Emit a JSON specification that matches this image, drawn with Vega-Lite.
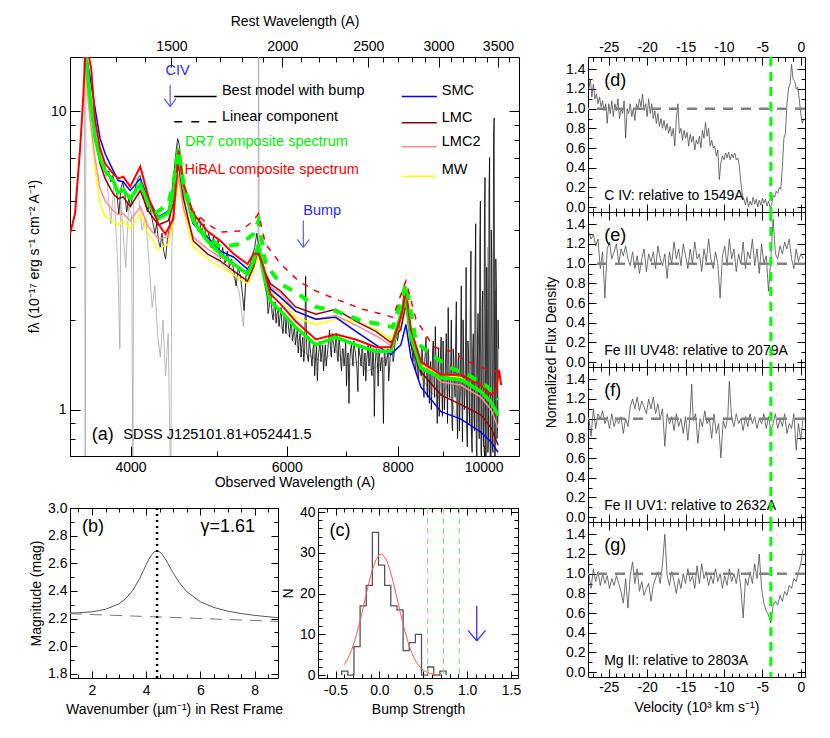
{
"$schema": "https://vega.github.io/schema/vega-lite/v6.json",
"padding": {"left": 26, "top": 13, "right": 5, "bottom": 5},
"background": "white",
"config": {
  "font": "Liberation Sans",
  "view": {"stroke": "#000", "strokeWidth": 1},
  "axis": {"domain": false, "grid": false, "labelColor": "#000", "titleColor": "#000", "tickColor": "#000", "labelFontSize": 14, "titleFontSize": 14, "titleFontWeight": "normal", "labelOverlap": false, "labelFlush": false}
},
"datasets": {
  "gray": [{"w":3530,"f":16},{"w":3548,"f":13},{"w":3556,"f":0.5},{"w":3562,"f":12},{"w":3600,"f":10.2},{"w":3650,"f":8.2},{"w":3700,"f":6.8},{"w":3760,"f":6.0},{"w":3800,"f":4.2},{"w":3830,"f":5.6},{"w":3870,"f":3.0},{"w":3890,"f":1.6},{"w":3900,"f":5.0},{"w":3950,"f":3.0},{"w":3980,"f":4.8},{"w":4010,"f":4.5},{"w":4024,"f":0.5},{"w":4032,"f":5.0},{"w":4080,"f":5.4},{"w":4120,"f":4.0},{"w":4160,"f":4.4},{"w":4200,"f":3.0},{"w":4230,"f":2.2},{"w":4260,"f":2.6},{"w":4290,"f":1.8},{"w":4320,"f":1.5},{"w":4350,"f":2.0},{"w":4380,"f":1.3},{"w":4410,"f":1.8},{"w":4440,"f":0.5},{"w":4452,"f":3.5},{"w":4480,"f":5.8},{"w":4520,"f":7.8},{"w":4560,"f":6.0},{"w":4620,"f":4.8},{"w":4700,"f":4.2},{"w":4800,"f":3.9},{"w":4900,"f":3.6},{"w":5000,"f":3.3},{"w":5100,"f":3.0},{"w":5200,"f":2.9},{"w":5300,"f":2.5},{"w":5360,"f":1.9},{"w":5400,"f":2.8},{"w":5500,"f":3.2},{"w":5568,"f":3.6},{"w":5576,"f":20},{"w":5584,"f":3.4},{"w":5650,"f":2.7},{"w":5750,"f":2.2},{"w":5900,"f":1.9},{"w":6000,"f":1.8},{"w":6200,"f":1.6},{"w":6400,"f":1.5},{"w":6600,"f":1.45},{"w":6800,"f":1.6},{"w":7000,"f":1.4},{"w":7200,"f":1.45},{"w":7400,"f":1.35},{"w":7600,"f":1.4},{"w":7800,"f":1.5},{"w":8000,"f":1.8},{"w":8150,"f":2.4},{"w":8300,"f":1.6},{"w":8500,"f":1.3},{"w":8700,"f":1.15},{"w":8900,"f":1.1},{"w":9100,"f":1.2},{"w":9300,"f":0.95},{"w":9500,"f":1.3},{"w":9700,"f":0.8},{"w":9900,"f":2.0},{"w":10000,"f":0.72},{"w":10100,"f":3.5},{"w":10200,"f":0.7},{"w":10300,"f":2.5},{"w":10400,"f":0.9}],
  "black": [{"w":3545,"f":15.5},{"w":3560,"f":14.2},{"w":3575,"f":12.5},{"w":3590,"f":11.2},{"w":3605,"f":10.4},{"w":3620,"f":9.4},{"w":3640,"f":8.5},{"w":3660,"f":7.8},{"w":3680,"f":7.3},{"w":3700,"f":6.9},{"w":3720,"f":6.5},{"w":3740,"f":6.6},{"w":3760,"f":6.1},{"w":3780,"f":6.3},{"w":3800,"f":5.8},{"w":3820,"f":6.1},{"w":3840,"f":5.6},{"w":3860,"f":5.3},{"w":3880,"f":4.5},{"w":3900,"f":5.5},{"w":3920,"f":5.8},{"w":3940,"f":5.3},{"w":3960,"f":4.6},{"w":3980,"f":5.1},{"w":4000,"f":4.8},{"w":4020,"f":5.2},{"w":4040,"f":5.4},{"w":4060,"f":5.7},{"w":4080,"f":6.0},{"w":4100,"f":6.1},{"w":4120,"f":5.7},{"w":4140,"f":5.1},{"w":4160,"f":4.8},{"w":4180,"f":4.6},{"w":4200,"f":4.9},{"w":4220,"f":4.5},{"w":4240,"f":4.2},{"w":4260,"f":3.9},{"w":4280,"f":4.2},{"w":4300,"f":3.7},{"w":4320,"f":3.5},{"w":4340,"f":3.9},{"w":4360,"f":3.4},{"w":4380,"f":3.2},{"w":4400,"f":3.7},{"w":4420,"f":4.0},{"w":4440,"f":4.9},{"w":4460,"f":5.7},{"w":4480,"f":6.4},{"w":4500,"f":7.3},{"w":4520,"f":8.1},{"w":4540,"f":7.7},{"w":4560,"f":6.5},{"w":4580,"f":5.9},{"w":4600,"f":5.5},{"w":4630,"f":5.0},{"w":4660,"f":4.7},{"w":4690,"f":4.3},{"w":4720,"f":4.6},{"w":4750,"f":4.1},{"w":4780,"f":4.4},{"w":4810,"f":3.9},{"w":4840,"f":4.2},{"w":4870,"f":3.7},{"w":4900,"f":3.9},{"w":4930,"f":3.5},{"w":4960,"f":3.8},{"w":4990,"f":3.4},{"w":5020,"f":3.7},{"w":5050,"f":3.2},{"w":5080,"f":3.5},{"w":5110,"f":3.1},{"w":5140,"f":3.4},{"w":5170,"f":3.0},{"w":5200,"f":3.2},{"w":5230,"f":2.9},{"w":5260,"f":2.6},{"w":5290,"f":3.0},{"w":5320,"f":2.8},{"w":5350,"f":2.4},{"w":5370,"f":2.15},{"w":5400,"f":2.9},{"w":5430,"f":3.0},{"w":5460,"f":3.1},{"w":5490,"f":3.3},{"w":5520,"f":3.5},{"w":5550,"f":3.9},{"w":5580,"f":3.5},{"w":5610,"f":3.2},{"w":5640,"f":2.9},{"w":5670,"f":2.6},{"w":5700,"f":2.4},{"w":5730,"f":2.2},{"w":5760,"f":2.4},{"w":5790,"f":2.0},{"w":5820,"f":2.3},{"w":5850,"f":2.1},{"w":5880,"f":1.9},{"w":5910,"f":2.2},{"w":5940,"f":1.8},{"w":5970,"f":2.1},{"w":6000,"f":2.0},{"w":6030,"f":1.85},{"w":6060,"f":1.95},{"w":6090,"f":1.7},{"w":6120,"f":1.9},{"w":6150,"f":1.75},{"w":6180,"f":1.55},{"w":6210,"f":1.8},{"w":6240,"f":1.65},{"w":6270,"f":1.45},{"w":6300,"f":2.8},{"w":6320,"f":1.55},{"w":6360,"f":1.75},{"w":6390,"f":1.5},{"w":6420,"f":1.6},{"w":6450,"f":1.3},{"w":6480,"f":1.65},{"w":6510,"f":1.5},{"w":6540,"f":1.7},{"w":6570,"f":1.55},{"w":6600,"f":1.35},{"w":6630,"f":1.65},{"w":6660,"f":1.5},{"w":6690,"f":1.75},{"w":6720,"f":1.6},{"w":6750,"f":1.8},{"w":6780,"f":1.65},{"w":6810,"f":1.7},{"w":6840,"f":1.5},{"w":6870,"f":1.75},{"w":6900,"f":1.45},{"w":6930,"f":1.6},{"w":6960,"f":1.4},{"w":6990,"f":1.7},{"w":7020,"f":1.5},{"w":7050,"f":1.05},{"w":7080,"f":1.6},{"w":7110,"f":1.5},{"w":7140,"f":1.7},{"w":7170,"f":1.55},{"w":7200,"f":1.35},{"w":7230,"f":1.65},{"w":7260,"f":1.5},{"w":7290,"f":1.6},{"w":7320,"f":1.3},{"w":7350,"f":1.55},{"w":7380,"f":1.45},{"w":7410,"f":1.65},{"w":7440,"f":1.5},{"w":7470,"f":1.35},{"w":7500,"f":1.6},{"w":7530,"f":0.95},{"w":7560,"f":1.55},{"w":7590,"f":1.45},{"w":7620,"f":1.6},{"w":7650,"f":1.35},{"w":7680,"f":1.5},{"w":7710,"f":0.9},{"w":7740,"f":1.55},{"w":7770,"f":1.45},{"w":7800,"f":1.6},{"w":7830,"f":1.35},{"w":7860,"f":1.55},{"w":7890,"f":1.65},{"w":7920,"f":1.5},{"w":7950,"f":1.7},{"w":7980,"f":1.8},{"w":8010,"f":1.75},{"w":8040,"f":1.95},{"w":8070,"f":2.05},{"w":8100,"f":2.25},{"w":8130,"f":2.45},{"w":8160,"f":2.6},{"w":8190,"f":2.3},{"w":8220,"f":2.0},{"w":8250,"f":1.85},{"w":8280,"f":1.7},{"w":8310,"f":1.55},{"w":8340,"f":1.65},{"w":8370,"f":1.4},{"w":8400,"f":1.55},{"w":8430,"f":1.3},{"w":8460,"f":1.5},{"w":8490,"f":1.35},{"w":8520,"f":1.6},{"w":8550,"f":1.2},{"w":8580,"f":1.45},{"w":8610,"f":1.75},{"w":8640,"f":1.1},{"w":8670,"f":1.5},{"w":8700,"f":1.3},{"w":8730,"f":1.0},{"w":8760,"f":1.6},{"w":8790,"f":1.25},{"w":8820,"f":1.9},{"w":8850,"f":1.15},{"w":8880,"f":1.4},{"w":8910,"f":0.95},{"w":8940,"f":1.55},{"w":8970,"f":1.2},{"w":9000,"f":1.7},{"w":9030,"f":1.0},{"w":9060,"f":1.5},{"w":9090,"f":1.25},{"w":9120,"f":2.2},{"w":9150,"f":1.1},{"w":9180,"f":1.45},{"w":9210,"f":0.9},{"w":9240,"f":1.6},{"w":9270,"f":1.2},{"w":9300,"f":1.8},{"w":9330,"f":1.0},{"w":9360,"f":1.45},{"w":9390,"f":0.85},{"w":9420,"f":1.6},{"w":9450,"f":1.15},{"w":9480,"f":2.0},{"w":9510,"f":1.0},{"w":9540,"f":1.5},{"w":9570,"f":0.85},{"w":9600,"f":1.7},{"w":9630,"f":1.1},{"w":9660,"f":2.4},{"w":9690,"f":0.8},{"w":9720,"f":1.6},{"w":9750,"f":1.05},{"w":9780,"f":2.8},{"w":9810,"f":0.75},{"w":9840,"f":1.7},{"w":9870,"f":0.9},{"w":9900,"f":3.6},{"w":9930,"f":0.72},{"w":9960,"f":2.2},{"w":9990,"f":0.8},{"w":10020,"f":4.5},{"w":10050,"f":0.69},{"w":10080,"f":3.0},{"w":10110,"f":0.72},{"w":10140,"f":5.5},{"w":10170,"f":0.69},{"w":10200,"f":4.0},{"w":10230,"f":0.75},{"w":10260,"f":8.2},{"w":10290,"f":0.69},{"w":10320,"f":3.2},{"w":10350,"f":0.8},{"w":10380,"f":2.0},
{"w":5715,"f":2.1},{"w":5745,"f":2.5},{"w":5775,"f":2.1},{"w":5805,"f":2.2},{"w":5835,"f":1.95},{"w":5865,"f":2.15},{"w":5895,"f":2.05},{"w":5925,"f":1.9},{"w":5955,"f":2.05},{"w":5985,"f":1.8},{"w":6015,"f":2.05},{"w":6045,"f":1.75},{"w":6075,"f":1.9},{"w":6105,"f":1.8},{"w":6135,"f":1.65},{"w":6165,"f":1.85},{"w":6195,"f":1.7},{"w":6225,"f":1.5},{"w":6255,"f":1.75},{"w":6285,"f":1.6},{"w":6315,"f":1.7},{"w":6345,"f":1.45},{"w":6375,"f":1.6},{"w":6405,"f":1.4},{"w":6435,"f":1.65},{"w":6465,"f":1.5},{"w":6495,"f":1.25},{"w":6525,"f":1.6},{"w":6555,"f":1.45},{"w":6585,"f":1.65},{"w":6615,"f":1.5},{"w":6645,"f":1.4},{"w":6675,"f":1.6},{"w":6705,"f":1.85},{"w":6735,"f":1.5},{"w":6765,"f":1.7},{"w":6795,"f":1.55},{"w":6825,"f":1.8},{"w":6855,"f":1.45},{"w":6885,"f":1.65},{"w":6915,"f":1.35},{"w":6945,"f":1.6},{"w":6975,"f":1.5},{"w":7005,"f":1.2},{"w":7035,"f":1.55},{"w":7065,"f":1.45},{"w":7095,"f":1.65},{"w":7125,"f":1.4},{"w":7155,"f":1.6},{"w":7185,"f":1.45},{"w":7215,"f":1.15},{"w":7245,"f":1.55},{"w":7275,"f":1.4},{"w":7305,"f":1.6},{"w":7335,"f":1.45},{"w":7365,"f":1.25},{"w":7395,"f":1.55},{"w":7425,"f":1.4},{"w":7455,"f":1.65},{"w":7485,"f":1.3},{"w":7515,"f":1.5},{"w":7545,"f":1.4},{"w":7575,"f":1.6},{"w":7605,"f":1.2},{"w":7635,"f":1.5},{"w":7665,"f":1.45},{"w":7695,"f":1.3},{"w":7725,"f":1.55},{"w":7755,"f":1.4},{"w":7785,"f":1.5},{"w":7815,"f":1.25},{"w":7845,"f":1.5},{"w":7875,"f":1.6},{"w":7905,"f":1.45},{"w":7935,"f":1.6},{"w":7965,"f":1.75},{"w":7995,"f":1.7},{"w":8025,"f":1.85},{"w":8055,"f":2.0},{"w":8085,"f":2.15},{"w":8115,"f":2.35},{"w":8145,"f":2.55},{"w":8175,"f":2.5},{"w":8205,"f":2.1},{"w":8235,"f":1.9},{"w":8265,"f":1.75},{"w":8295,"f":1.6},{"w":8325,"f":1.45},{"w":8355,"f":1.6},{"w":8385,"f":1.35},{"w":8415,"f":1.55},{"w":8445,"f":1.25},{"w":8475,"f":1.45},{"w":8505,"f":1.3},{"w":8535,"f":1.5},{"w":8565,"f":1.1},{"w":8595,"f":1.55},{"w":8625,"f":1.3},{"w":8655,"f":1.6},{"w":8685,"f":1.05},{"w":8715,"f":1.45},{"w":8745,"f":1.2},{"w":8775,"f":1.7},{"w":8805,"f":1.1},{"w":8835,"f":1.5},{"w":8865,"f":0.9},{"w":8895,"f":1.6},{"w":8925,"f":1.15},{"w":8955,"f":1.75},{"w":8985,"f":0.95},{"w":9015,"f":1.4},{"w":9045,"f":1.15},{"w":9075,"f":1.8},{"w":9105,"f":0.9},{"w":9135,"f":1.5},{"w":9165,"f":1.3},{"w":9195,"f":2.0},{"w":9225,"f":0.85},{"w":9255,"f":1.45},{"w":9285,"f":1.1},{"w":9315,"f":2.3},{"w":9345,"f":0.8},{"w":9375,"f":1.55},{"w":9405,"f":1.05},{"w":9435,"f":2.6},{"w":9465,"f":0.78},{"w":9495,"f":1.4},{"w":9525,"f":1.15},{"w":9555,"f":3.0},{"w":9585,"f":0.75},{"w":9615,"f":1.5},{"w":9645,"f":0.9},{"w":9675,"f":3.4},{"w":9705,"f":0.72},{"w":9735,"f":1.8},{"w":9765,"f":0.85},{"w":9795,"f":4.2},{"w":9825,"f":0.7},{"w":9855,"f":2.1},{"w":9885,"f":0.8},{"w":9915,"f":5.0},{"w":9945,"f":0.69},{"w":9975,"f":2.5},{"w":10005,"f":0.75},{"w":10035,"f":6.0},{"w":10065,"f":0.69},{"w":10095,"f":2.2},{"w":10125,"f":0.8},{"w":10155,"f":7.0},{"w":10185,"f":0.69},{"w":10215,"f":3.0},{"w":10245,"f":0.72},{"w":10275,"f":9.5},{"w":10305,"f":0.69},{"w":10335,"f":2.6},{"w":10365,"f":0.85},{"w":10395,"f":1.6}],
  "models": [
{"w":3555,"SMC":16.3,"LMC":15.7,"LMC2":13.96,"MW":12.91,"DR7":16.3},
{"w":3602,"SMC":12.91,"LMC":11.06,"LMC2":9.33,"MW":9.47,"DR7":11.06},
{"w":3648,"SMC":10.23,"LMC":8.11,"LMC2":6.95,"MW":6.43,"DR7":8.11},
{"w":3695,"SMC":8.11,"LMC":6.68,"LMC2":5.51,"MW":4.90,"DR7":6.95},
{"w":3744,"SMC":7.22,"LMC":5.95,"LMC2":5.01,"MW":4.43,"DR7":6.33},
{"w":3823,"SMC":6.33,"LMC":5.30,"LMC2":4.64,"MW":4.30,"DR7":5.86},
{"w":3873,"SMC":5.86,"LMC":5.09,"LMC2":4.50,"MW":4.16,"DR7":5.34},
{"w":3924,"SMC":5.81,"LMC":5.17,"LMC2":4.54,"MW":4.30,"DR7":5.46},
{"w":3996,"SMC":5.42,"LMC":4.79,"LMC2":4.30,"MW":4.04,"DR7":5.09},
{"w":4102,"SMC":5.95,"LMC":5.42,"LMC2":4.79,"MW":4.54,"DR7":5.72},
{"w":4188,"SMC":5.09,"LMC":4.64,"LMC2":4.10,"MW":3.88,"DR7":4.90},
{"w":4298,"SMC":4.43,"LMC":4.16,"LMC2":3.74,"MW":3.46,"DR7":4.36},
{"w":4412,"SMC":4.64,"LMC":4.30,"LMC2":3.79,"MW":3.59,"DR7":4.57},
{"w":4469,"SMC":5.51,"LMC":4.90,"LMC2":4.54,"MW":4.30,"DR7":5.30},
{"w":4529,"SMC":7.39,"LMC":6.68,"LMC2":6.18,"MW":6.04,"DR7":7.51},
{"w":4589,"SMC":5.72,"LMC":5.09,"LMC2":4.71,"MW":4.64,"DR7":5.59},
{"w":4707,"SMC":4.20,"LMC":3.68,"LMC2":3.79,"MW":3.51,"DR7":4.30},
{"w":4882,"SMC":3.79,"LMC":3.33,"LMC2":3.46,"MW":3.20,"DR7":3.68},
{"w":5050,"SMC":3.40,"LMC":3.15,"LMC2":3.25,"MW":3.01,"DR7":3.33},
{"w":5224,"SMC":3.25,"LMC":2.92,"LMC2":3.05,"MW":2.83,"DR7":3.08},
{"w":5418,"SMC":2.96,"LMC":2.70,"LMC2":2.83,"MW":2.64,"DR7":2.85},
{"w":5503,"SMC":3.15,"LMC":3.01,"LMC2":3.10,"MW":2.92,"DR7":3.15},
{"w":5575,"SMC":3.46,"LMC":3.46,"LMC2":3.51,"MW":3.33,"DR7":3.59},
{"w":5648,"SMC":2.92,"LMC":2.96,"LMC2":2.96,"MW":2.85,"DR7":2.85},
{"w":5752,"SMC":2.54,"LMC":2.64,"LMC2":2.58,"MW":2.50,"DR7":2.31},
{"w":5904,"SMC":2.38,"LMC":2.50,"LMC2":2.46,"MW":2.38,"DR7":2.14},
{"w":6138,"SMC":2.14,"LMC":2.21,"LMC2":2.14,"MW":2.04,"DR7":1.89},
{"w":6470,"SMC":2.01,"LMC":2.09,"LMC2":2.01,"MW":1.93,"DR7":1.65},
{"w":6811,"SMC":2.04,"LMC":2.17,"LMC2":2.07,"MW":2.01,"DR7":1.75},
{"w":7176,"SMC":1.83,"LMC":1.98,"LMC2":1.92,"MW":1.98,"DR7":1.65},
{"w":7560,"SMC":1.65,"LMC":1.83,"LMC2":1.77,"MW":1.86,"DR7":1.57},
{"w":7859,"SMC":1.53,"LMC":1.68,"LMC2":1.64,"MW":1.72,"DR7":1.57},
{"w":8066,"SMC":1.65,"LMC":1.86,"LMC2":1.89,"MW":2.01,"DR7":2.09},
{"w":8173,"SMC":1.93,"LMC":2.26,"LMC2":2.35,"MW":2.50,"DR7":2.38},
{"w":8279,"SMC":1.50,"LMC":1.65,"LMC2":1.72,"MW":1.79,"DR7":1.75},
{"w":8498,"SMC":1.19,"LMC":1.34,"LMC2":1.45,"MW":1.41,"DR7":1.38},
{"w":8953,"SMC":0.985,"LMC":1.12,"LMC2":1.24,"MW":1.31,"DR7":1.28},
{"w":9430,"SMC":0.93,"LMC":1.04,"LMC2":1.21,"MW":1.28,"DR7":1.26},
{"w":9934,"SMC":0.84,"LMC":0.96,"LMC2":1.10,"MW":1.15,"DR7":1.15},
{"w":10195,"SMC":0.78,"LMC":0.87,"LMC2":1.00,"MW":1.06,"DR7":1.06},
{"w":10382,"SMC":0.72,"LMC":0.76,"LMC2":0.87,"MW":0.96,"DR7":0.96}],
  "hibal": [{"w":3418,"f":3.88},{"w":3463,"f":4.54},{"w":3509,"f":7.51},{"w":3537,"f":11.06},{"w":3555,"f":15.1},{"w":3583,"f":15.7},{"w":3611,"f":13.96},{"w":3648,"f":9.33},{"w":3695,"f":7.51},{"w":3744,"f":6.68},{"w":3823,"f":6.18},{"w":3873,"f":5.95},{"w":3924,"f":6.04},{"w":3996,"f":5.59},{"w":4102,"f":6.53},{"w":4188,"f":5.17},{"w":4298,"f":4.20},{"w":4377,"f":3.88},{"w":4469,"f":4.36},{"w":4529,"f":7.39},{"w":4589,"f":5.72},{"w":4707,"f":4.54},{"w":4882,"f":3.97},{"w":5050,"f":3.68},{"w":5224,"f":3.33},{"w":5418,"f":3.08},{"w":5503,"f":3.33},{"w":5575,"f":3.33},{"w":5648,"f":3.01},{"w":5752,"f":2.44},{"w":5904,"f":2.26},{"w":6138,"f":1.98},{"w":6470,"f":1.72},{"w":6811,"f":1.79},{"w":7176,"f":1.72},{"w":7560,"f":1.62},{"w":7859,"f":1.62},{"w":8066,"f":2.04},{"w":8173,"f":2.50},{"w":8279,"f":1.86},{"w":8498,"f":1.45},{"w":8953,"f":1.31},{"w":9430,"f":1.31},{"w":9934,"f":1.21},{"w":10195,"f":1.12},{"w":10326,"f":1.15},{"w":10407,"f":1.36},{"w":10464,"f":1.21}],
  "dr7dash": [{"w":4264,"f":4.54},{"w":4412,"f":4.90},{"w":4469,"f":5.72},{"w":4529,"f":7.39},{"w":4589,"f":5.72},{"w":4732,"f":4.10},{"w":5050,"f":3.51},{"w":5320,"f":3.59},{"w":5503,"f":3.88},{"w":5575,"f":4.30},{"w":5678,"f":3.08},{"w":5904,"f":2.64},{"w":6187,"f":2.44},{"w":6470,"f":2.21},{"w":6811,"f":2.14},{"w":7307,"f":1.98},{"w":7697,"f":1.93},{"w":7900,"f":1.89},{"w":8109,"f":2.44},{"w":8173,"f":2.64},{"w":8387,"f":1.69},{"w":8723,"f":1.53},{"w":9190,"f":1.38},{"w":9600,"f":1.31},{"w":10113,"f":1.19},{"w":10382,"f":1.08}],
  "hibaldash": [{"w":4671,"f":4.71},{"w":4882,"f":4.20},{"w":5050,"f":3.94},{"w":5320,"f":3.97},{"w":5503,"f":4.30},{"w":5575,"f":4.54},{"w":5678,"f":3.59},{"w":5904,"f":3.08},{"w":6187,"f":2.70},{"w":6470,"f":2.50},{"w":6811,"f":2.35},{"w":7307,"f":2.17},{"w":7697,"f":2.09},{"w":7900,"f":2.04},{"w":8109,"f":2.54},{"w":8173,"f":2.70},{"w":8387,"f":2.01},{"w":8789,"f":1.62},{"w":9190,"f":1.57},{"w":9600,"f":1.45},{"w":10113,"f":1.36},{"w":10382,"f":1.34}],
  "bsolid": [{"x":1.19,"y":2.240},{"x":1.5,"y":2.242},{"x":2,"y":2.249},{"x":2.5,"y":2.267},{"x":3,"y":2.307},{"x":3.25,"y":2.345},{"x":3.5,"y":2.403},{"x":3.75,"y":2.487},{"x":3.9,"y":2.548},{"x":4.0,"y":2.591},{"x":4.1,"y":2.630},{"x":4.2,"y":2.662},{"x":4.3,"y":2.683},{"x":4.4,"y":2.690},{"x":4.5,"y":2.682},{"x":4.6,"y":2.662},{"x":4.7,"y":2.633},{"x":4.8,"y":2.599},{"x":4.9,"y":2.563},{"x":5.0,"y":2.528},{"x":5.25,"y":2.452},{"x":5.5,"y":2.394},{"x":6,"y":2.321},{"x":6.5,"y":2.280},{"x":7,"y":2.254},{"x":7.5,"y":2.236},{"x":8,"y":2.223},{"x":8.5,"y":2.213},{"x":8.86,"y":2.206}],
  "hist": [{"x":-0.43,"n":0},{"x":-0.43,"n":1},{"x":-0.36,"n":0},{"x":-0.29,"n":7},{"x":-0.22,"n":17},{"x":-0.15,"n":22},{"x":-0.08,"n":35},{"x":-0.01,"n":27},{"x":0.06,"n":22},{"x":0.13,"n":17},{"x":0.20,"n":16},{"x":0.27,"n":6},{"x":0.34,"n":8},{"x":0.41,"n":10},{"x":0.48,"n":0},{"x":0.55,"n":2},{"x":0.62,"n":0},{"x":0.69,"n":1},{"x":0.76,"n":0}],
  "gauss": [{"x":-0.40,"n":2.58},{"x":-0.36,"n":4.02},{"x":-0.32,"n":5.99},{"x":-0.28,"n":8.54},{"x":-0.24,"n":11.65},{"x":-0.20,"n":15.19},{"x":-0.16,"n":18.96},{"x":-0.12,"n":22.64},{"x":-0.08,"n":25.86},{"x":-0.04,"n":28.25},{"x":0.00,"n":29.54},{"x":0.02,"n":29.7},{"x":0.04,"n":29.54},{"x":0.08,"n":28.25},{"x":0.12,"n":25.86},{"x":0.16,"n":22.64},{"x":0.20,"n":18.96},{"x":0.24,"n":15.19},{"x":0.28,"n":11.65},{"x":0.32,"n":8.54},{"x":0.36,"n":5.99},{"x":0.40,"n":4.02},{"x":0.44,"n":2.58},{"x":0.48,"n":1.58},{"x":0.52,"n":0.93},{"x":0.56,"n":0.52},{"x":0.60,"n":0.28},{"x":0.64,"n":0.15},{"x":0.68,"n":0.07}],
  "vd": [{"v":-27.6,"y":1.2},{"v":-27.4,"y":1.3},{"v":-27.2,"y":1.12},{"v":-27.0,"y":1.25},{"v":-26.8,"y":1.1},{"v":-26.6,"y":1.15},{"v":-26.4,"y":1.05},{"v":-26.2,"y":1.12},{"v":-26.0,"y":1.02},{"v":-25.8,"y":1.08},{"v":-25.6,"y":0.98},{"v":-25.4,"y":1.05},{"v":-25.2,"y":0.85},{"v":-25.0,"y":1.05},{"v":-24.8,"y":0.95},{"v":-24.6,"y":1.08},{"v":-24.4,"y":0.92},{"v":-24.2,"y":1.05},{"v":-24.0,"y":0.98},{"v":-23.8,"y":1.1},{"v":-23.6,"y":0.9},{"v":-23.4,"y":1.0},{"v":-23.2,"y":0.95},{"v":-23.0,"y":1.08},{"v":-22.8,"y":0.7},{"v":-22.6,"y":1.0},{"v":-22.4,"y":0.95},{"v":-22.2,"y":1.05},{"v":-22.0,"y":0.92},{"v":-21.8,"y":1.0},{"v":-21.6,"y":0.88},{"v":-21.4,"y":1.05},{"v":-21.2,"y":1.0},{"v":-21.0,"y":1.1},{"v":-20.8,"y":1.02},{"v":-20.6,"y":1.15},{"v":-20.4,"y":0.98},{"v":-20.2,"y":1.05},{"v":-20.0,"y":0.92},{"v":-19.8,"y":1.1},{"v":-19.6,"y":0.95},{"v":-19.4,"y":1.05},{"v":-19.2,"y":0.9},{"v":-19.0,"y":0.98},{"v":-18.8,"y":0.85},{"v":-18.6,"y":0.95},{"v":-18.4,"y":0.82},{"v":-18.2,"y":0.9},{"v":-18.0,"y":0.8},{"v":-17.8,"y":0.88},{"v":-17.6,"y":0.78},{"v":-17.4,"y":0.85},{"v":-17.2,"y":0.75},{"v":-17.0,"y":0.82},{"v":-16.8,"y":0.72},{"v":-16.6,"y":0.8},{"v":-16.4,"y":0.62},{"v":-16.2,"y":0.9},{"v":-16.0,"y":1.05},{"v":-15.8,"y":0.75},{"v":-15.6,"y":0.8},{"v":-15.4,"y":0.68},{"v":-15.2,"y":0.78},{"v":-15.0,"y":0.7},{"v":-14.8,"y":0.76},{"v":-14.6,"y":0.62},{"v":-14.4,"y":0.74},{"v":-14.2,"y":0.66},{"v":-14.0,"y":0.72},{"v":-13.8,"y":0.58},{"v":-13.6,"y":0.68},{"v":-13.4,"y":0.64},{"v":-13.2,"y":0.72},{"v":-13.0,"y":0.6},{"v":-12.8,"y":0.78},{"v":-12.6,"y":0.7},{"v":-12.4,"y":0.86},{"v":-12.2,"y":0.72},{"v":-12.0,"y":0.8},{"v":-11.8,"y":0.62},{"v":-11.6,"y":0.68},{"v":-11.4,"y":0.6},{"v":-11.2,"y":0.62},{"v":-11.0,"y":0.52},{"v":-10.8,"y":0.58},{"v":-10.6,"y":0.28},{"v":-10.4,"y":0.45},{"v":-10.2,"y":0.52},{"v":-10.0,"y":0.48},{"v":-9.8,"y":0.55},{"v":-9.6,"y":0.5},{"v":-9.4,"y":0.56},{"v":-9.2,"y":0.48},{"v":-9.0,"y":0.54},{"v":-8.8,"y":0.5},{"v":-8.6,"y":0.55},{"v":-8.4,"y":0.48},{"v":-8.2,"y":0.5},{"v":-8.0,"y":0.42},{"v":-7.8,"y":0.25},{"v":-7.6,"y":0.12},{"v":-7.4,"y":0.08},{"v":-7.2,"y":0.02},{"v":-7.0,"y":0.1},{"v":-6.8,"y":0.0},{"v":-6.6,"y":0.06},{"v":-6.4,"y":0.02},{"v":-6.2,"y":0.1},{"v":-6.0,"y":0.03},{"v":-5.8,"y":0.08},{"v":-5.6,"y":0.0},{"v":-5.4,"y":0.07},{"v":-5.2,"y":0.02},{"v":-5.0,"y":0.09},{"v":-4.8,"y":0.04},{"v":-4.6,"y":0.08},{"v":-4.4,"y":0.01},{"v":-4.2,"y":0.06},{"v":-4.0,"y":0.0},{"v":-3.8,"y":0.02},{"v":-3.6,"y":0.12},{"v":-3.4,"y":0.1},{"v":-3.2,"y":0.16},{"v":-3.0,"y":0.14},{"v":-2.8,"y":0.2},{"v":-2.6,"y":0.18},{"v":-2.4,"y":0.4},{"v":-2.2,"y":0.7},{"v":-2.0,"y":0.75},{"v":-1.8,"y":1.05},{"v":-1.6,"y":1.2},{"v":-1.4,"y":1.25},{"v":-1.2,"y":1.45},{"v":-1.0,"y":1.3},{"v":-0.8,"y":1.28},{"v":-0.6,"y":1.2},{"v":-0.4,"y":1.22},{"v":-0.2,"y":1.1},{"v":0.0,"y":0.95},{"v":0.2,"y":0.85},{"v":0.4,"y":0.9}],
  "ve": [{"v":-27.6,"y":1.32},{"v":-27.3,"y":1.25},{"v":-27.0,"y":1.3},{"v":-26.7,"y":1.18},{"v":-26.4,"y":1.25},{"v":-26.1,"y":0.95},{"v":-25.8,"y":1.12},{"v":-25.5,"y":0.65},{"v":-25.2,"y":1.15},{"v":-24.9,"y":1.22},{"v":-24.6,"y":1.05},{"v":-24.3,"y":1.12},{"v":-24.0,"y":1.2},{"v":-23.7,"y":1.0},{"v":-23.4,"y":1.15},{"v":-23.1,"y":1.08},{"v":-22.8,"y":1.18},{"v":-22.5,"y":1.05},{"v":-22.2,"y":0.98},{"v":-21.9,"y":1.12},{"v":-21.6,"y":0.95},{"v":-21.3,"y":1.08},{"v":-21.0,"y":0.9},{"v":-20.7,"y":1.05},{"v":-20.4,"y":1.15},{"v":-20.1,"y":0.92},{"v":-19.8,"y":1.1},{"v":-19.5,"y":1.02},{"v":-19.2,"y":1.12},{"v":-18.9,"y":0.95},{"v":-18.6,"y":1.18},{"v":-18.3,"y":1.05},{"v":-18.0,"y":0.98},{"v":-17.7,"y":1.1},{"v":-17.4,"y":0.85},{"v":-17.1,"y":1.12},{"v":-16.8,"y":1.0},{"v":-16.5,"y":1.22},{"v":-16.2,"y":1.05},{"v":-15.9,"y":1.15},{"v":-15.6,"y":0.98},{"v":-15.3,"y":1.2},{"v":-15.0,"y":1.08},{"v":-14.7,"y":0.95},{"v":-14.4,"y":1.15},{"v":-14.1,"y":1.0},{"v":-13.8,"y":1.22},{"v":-13.5,"y":1.05},{"v":-13.2,"y":1.1},{"v":-12.9,"y":0.92},{"v":-12.6,"y":1.15},{"v":-12.3,"y":1.02},{"v":-12.0,"y":1.25},{"v":-11.7,"y":1.05},{"v":-11.4,"y":0.95},{"v":-11.1,"y":1.12},{"v":-10.8,"y":1.0},{"v":-10.5,"y":0.65},{"v":-10.2,"y":1.08},{"v":-9.9,"y":1.18},{"v":-9.6,"y":0.98},{"v":-9.3,"y":1.25},{"v":-9.0,"y":1.05},{"v":-8.7,"y":1.15},{"v":-8.4,"y":0.92},{"v":-8.1,"y":1.1},{"v":-7.8,"y":1.0},{"v":-7.5,"y":1.22},{"v":-7.2,"y":0.95},{"v":-6.9,"y":1.12},{"v":-6.6,"y":1.05},{"v":-6.3,"y":1.25},{"v":-6.0,"y":0.98},{"v":-5.7,"y":1.15},{"v":-5.4,"y":0.9},{"v":-5.1,"y":1.2},{"v":-4.8,"y":1.0},{"v":-4.5,"y":1.08},{"v":-4.2,"y":0.72},{"v":-3.9,"y":1.05},{"v":-3.6,"y":1.45},{"v":-3.3,"y":1.1},{"v":-3.0,"y":1.05},{"v":-2.7,"y":1.18},{"v":-2.4,"y":1.1},{"v":-2.1,"y":1.22},{"v":-1.8,"y":1.15},{"v":-1.5,"y":1.25},{"v":-1.2,"y":1.05},{"v":-0.9,"y":0.95},{"v":-0.6,"y":1.15},{"v":-0.3,"y":1.02},{"v":0.0,"y":1.1},{"v":0.3,"y":1.05}],
  "vf": [{"v":-27.6,"y":1.0},{"v":-27.3,"y":0.82},{"v":-27.0,"y":1.1},{"v":-26.7,"y":0.9},{"v":-26.4,"y":1.05},{"v":-26.1,"y":1.0},{"v":-25.8,"y":1.08},{"v":-25.5,"y":0.95},{"v":-25.2,"y":1.02},{"v":-24.9,"y":0.9},{"v":-24.6,"y":1.05},{"v":-24.3,"y":0.92},{"v":-24.0,"y":1.0},{"v":-23.7,"y":0.95},{"v":-23.4,"y":1.02},{"v":-23.1,"y":0.85},{"v":-22.8,"y":1.0},{"v":-22.5,"y":0.92},{"v":-22.2,"y":1.12},{"v":-21.9,"y":1.2},{"v":-21.6,"y":1.1},{"v":-21.3,"y":1.22},{"v":-21.0,"y":1.08},{"v":-20.7,"y":1.18},{"v":-20.4,"y":1.12},{"v":-20.1,"y":1.05},{"v":-19.8,"y":1.2},{"v":-19.5,"y":1.1},{"v":-19.2,"y":1.22},{"v":-18.9,"y":1.05},{"v":-18.6,"y":1.15},{"v":-18.3,"y":1.0},{"v":-18.0,"y":1.1},{"v":-17.7,"y":0.72},{"v":-17.4,"y":1.05},{"v":-17.1,"y":0.95},{"v":-16.8,"y":1.02},{"v":-16.5,"y":0.88},{"v":-16.2,"y":1.05},{"v":-15.9,"y":0.92},{"v":-15.6,"y":1.0},{"v":-15.3,"y":0.85},{"v":-15.0,"y":1.02},{"v":-14.7,"y":0.78},{"v":-14.4,"y":1.05},{"v":-14.2,"y":1.35},{"v":-14.0,"y":0.98},{"v":-13.7,"y":1.05},{"v":-13.4,"y":0.75},{"v":-13.1,"y":1.0},{"v":-12.8,"y":0.92},{"v":-12.5,"y":1.08},{"v":-12.2,"y":0.95},{"v":-11.9,"y":1.0},{"v":-11.6,"y":0.8},{"v":-11.3,"y":1.05},{"v":-11.0,"y":0.85},{"v":-10.7,"y":0.95},{"v":-10.4,"y":0.6},{"v":-10.1,"y":0.98},{"v":-9.8,"y":0.9},{"v":-9.5,"y":1.02},{"v":-9.3,"y":1.38},{"v":-9.0,"y":1.0},{"v":-8.7,"y":0.92},{"v":-8.4,"y":1.05},{"v":-8.1,"y":0.95},{"v":-7.8,"y":1.0},{"v":-7.5,"y":0.88},{"v":-7.2,"y":1.02},{"v":-6.9,"y":0.92},{"v":-6.6,"y":1.05},{"v":-6.3,"y":0.95},{"v":-6.0,"y":1.02},{"v":-5.7,"y":0.9},{"v":-5.4,"y":1.0},{"v":-5.1,"y":0.95},{"v":-4.8,"y":1.05},{"v":-4.5,"y":0.9},{"v":-4.2,"y":1.02},{"v":-3.9,"y":0.88},{"v":-3.6,"y":0.95},{"v":-3.3,"y":1.05},{"v":-3.0,"y":0.9},{"v":-2.7,"y":1.0},{"v":-2.4,"y":0.92},{"v":-2.1,"y":1.05},{"v":-1.8,"y":0.85},{"v":-1.5,"y":0.95},{"v":-1.2,"y":0.9},{"v":-0.9,"y":1.05},{"v":-0.6,"y":0.68},{"v":-0.3,"y":0.95},{"v":0.0,"y":0.78},{"v":0.3,"y":1.02}],
  "vg": [{"v":-27.6,"y":1.0},{"v":-27.3,"y":0.85},{"v":-27.0,"y":1.05},{"v":-26.7,"y":0.92},{"v":-26.4,"y":1.02},{"v":-26.1,"y":0.88},{"v":-25.8,"y":1.0},{"v":-25.5,"y":0.9},{"v":-25.2,"y":0.98},{"v":-24.9,"y":0.85},{"v":-24.6,"y":0.95},{"v":-24.3,"y":0.88},{"v":-24.0,"y":0.98},{"v":-23.7,"y":0.9},{"v":-23.4,"y":0.82},{"v":-23.1,"y":0.7},{"v":-22.8,"y":0.95},{"v":-22.5,"y":0.65},{"v":-22.2,"y":0.98},{"v":-21.9,"y":1.12},{"v":-21.6,"y":0.9},{"v":-21.3,"y":1.05},{"v":-21.0,"y":0.82},{"v":-20.7,"y":0.92},{"v":-20.4,"y":0.78},{"v":-20.1,"y":0.85},{"v":-19.8,"y":0.9},{"v":-19.5,"y":0.72},{"v":-19.2,"y":0.88},{"v":-18.9,"y":0.95},{"v":-18.6,"y":1.02},{"v":-18.3,"y":0.9},{"v":-18.0,"y":1.1},{"v":-17.7,"y":1.4},{"v":-17.4,"y":0.98},{"v":-17.1,"y":0.88},{"v":-16.8,"y":1.02},{"v":-16.5,"y":0.92},{"v":-16.2,"y":0.8},{"v":-15.9,"y":0.95},{"v":-15.6,"y":0.85},{"v":-15.3,"y":1.0},{"v":-15.0,"y":0.9},{"v":-14.7,"y":1.05},{"v":-14.4,"y":0.92},{"v":-14.1,"y":0.98},{"v":-13.8,"y":0.85},{"v":-13.5,"y":1.08},{"v":-13.2,"y":0.9},{"v":-12.9,"y":1.1},{"v":-12.6,"y":0.95},{"v":-12.3,"y":1.02},{"v":-12.0,"y":0.88},{"v":-11.7,"y":0.98},{"v":-11.4,"y":0.9},{"v":-11.1,"y":1.05},{"v":-10.8,"y":0.92},{"v":-10.5,"y":1.0},{"v":-10.2,"y":0.85},{"v":-9.9,"y":0.98},{"v":-9.6,"y":0.88},{"v":-9.3,"y":1.05},{"v":-9.0,"y":0.92},{"v":-8.7,"y":1.0},{"v":-8.4,"y":0.9},{"v":-8.1,"y":1.05},{"v":-7.8,"y":0.85},{"v":-7.5,"y":0.55},{"v":-7.2,"y":0.95},{"v":-6.9,"y":0.88},{"v":-6.6,"y":1.02},{"v":-6.3,"y":0.9},{"v":-6.0,"y":1.1},{"v":-5.7,"y":0.95},{"v":-5.4,"y":1.2},{"v":-5.1,"y":0.85},{"v":-4.8,"y":0.7},{"v":-4.5,"y":0.62},{"v":-4.2,"y":0.58},{"v":-3.9,"y":0.5},{"v":-3.6,"y":0.68},{"v":-3.3,"y":0.72},{"v":-3.0,"y":0.68},{"v":-2.7,"y":0.78},{"v":-2.4,"y":0.72},{"v":-2.1,"y":0.82},{"v":-1.8,"y":0.78},{"v":-1.5,"y":0.88},{"v":-1.2,"y":0.85},{"v":-0.9,"y":0.95},{"v":-0.6,"y":0.92},{"v":-0.3,"y":1.02},{"v":0.0,"y":1.1},{"v":0.3,"y":1.25}]
},
"spacing": 21,
"hconcat": [
 {"bounds": "flush", "spacing": 52, "vconcat": [
  {"width": 449, "height": 399,
   "resolve": {"scale": {"x": "independent", "y": "independent"}},
   "layer": [
    {"layer": [
      {"data": {"name": "gray"}, "mark": {"type": "line", "color": "#a8a8a8", "strokeWidth": 0.8, "clip": true},
       "encoding": {
        "x": {"field": "w", "type": "quantitative", "scale": {"type": "log", "domain": [3418, 10960], "nice": false},
              "axis": {"values": [4000,5000,6000,7000,8000,9000,10000], "labelExpr": "datum.value % 2000 == 0 ? format(datum.value, 'd') : ''", "tickSize": {"condition": {"test": "datum.value % 2000 == 0", "value": -10}, "value": -5}, "labelPadding": 14, "title": "Observed Wavelength (A)", "titlePadding": -4}},
        "y": {"field": "f", "type": "quantitative", "scale": {"type": "log", "domain": [0.7, 15.2], "nice": false},
              "axis": {"values": [0.7,0.8,0.9,1,2,3,4,5,6,7,8,9,10], "labelExpr": "(datum.value == 1 || datum.value == 10) ? format(datum.value, 'd') : ''", "tickSize": {"condition": {"test": "datum.value == 1 || datum.value == 10", "value": -10}, "value": -5}, "labelPadding": 14, "title": "fλ (10⁻¹⁷ erg s⁻¹ cm⁻² A⁻¹)", "titleX": -29, "titleY": 199, "titleAngle": -90, "titleAlign": "center", "titleBaseline": "bottom"}}
       }},
      {"data": {"name": "black"}, "mark": {"type": "line", "color": "#000", "strokeWidth": 0.8, "clip": true},
       "encoding": {"x": {"field": "w", "type": "quantitative"}, "y": {"field": "f", "type": "quantitative"}}},
      {"data": {"name": "models"}, "transform": [{"fold": ["MW", "LMC2", "LMC", "SMC"], "as": ["model", "f"]}],
       "mark": {"type": "line", "strokeWidth": 1.5, "clip": true},
       "encoding": {"x": {"field": "w", "type": "quantitative"}, "y": {"field": "f", "type": "quantitative"},
        "color": {"field": "model", "type": "nominal", "scale": {"domain": ["SMC", "LMC", "LMC2", "MW"], "range": ["#0000ff", "#990000", "#ff8c8c", "#ffff00"]}, "legend": null}}},
      {"data": {"name": "models"}, "transform": [{"fold": ["DR7"], "as": ["model", "f"]}],
       "mark": {"type": "line", "color": "#00ff00", "strokeWidth": 3.5, "clip": true},
       "encoding": {"x": {"field": "w", "type": "quantitative"}, "y": {"field": "f", "type": "quantitative"}}},
      {"data": {"name": "hibal"}, "mark": {"type": "line", "color": "#ff0000", "strokeWidth": 2, "clip": true},
       "encoding": {"x": {"field": "w", "type": "quantitative"}, "y": {"field": "f", "type": "quantitative"}}},
      {"data": {"name": "dr7dash"}, "mark": {"type": "line", "color": "#00ff00", "strokeWidth": 4, "strokeDash": [10, 9], "clip": true},
       "encoding": {"x": {"field": "w", "type": "quantitative"}, "y": {"field": "f", "type": "quantitative"}}},
      {"data": {"name": "hibaldash"}, "mark": {"type": "line", "color": "#ff0000", "strokeWidth": 1.5, "strokeDash": [6, 7], "clip": true},
       "encoding": {"x": {"field": "w", "type": "quantitative"}, "y": {"field": "f", "type": "quantitative"}}},
      {"data": {"values": [{"w": 4480, "w2": 5000, "f": 11.2}]}, "mark": {"type": "rule", "color": "#000", "strokeWidth": 1.5},
       "encoding": {"x": {"field": "w", "type": "quantitative"}, "x2": {"field": "w2"}, "y": {"field": "f", "type": "quantitative"}}},
      {"data": {"values": [{"w": 4480, "w2": 5000, "f": 9.23}]}, "mark": {"type": "rule", "color": "#000", "strokeWidth": 1.5, "strokeDash": [8, 9]},
       "encoding": {"x": {"field": "w", "type": "quantitative"}, "x2": {"field": "w2"}, "y": {"field": "f", "type": "quantitative"}}},
      {"data": {"values": [{"m": "SMC", "w": 8084, "w2": 8856, "f": 11.2}, {"m": "LMC", "w": 8084, "w2": 8856, "f": 9.16}, {"m": "LMC2", "w": 8084, "w2": 8856, "f": 7.61}, {"m": "MW", "w": 8084, "w2": 8856, "f": 6.06}]},
       "mark": {"type": "rule", "strokeWidth": 1.5},
       "encoding": {"x": {"field": "w", "type": "quantitative"}, "x2": {"field": "w2"}, "y": {"field": "f", "type": "quantitative"}, "color": {"field": "m", "type": "nominal", "legend": null}}},
      {"data": {"values": [{"w": 5070, "f": 11.65, "t": "Best model with bump"}, {"w": 5070, "f": 9.55, "t": "Linear component"}, {"w": 8970, "f": 11.65, "t": "SMC"}, {"w": 8970, "f": 9.47, "t": "LMC"}, {"w": 8970, "f": 7.91, "t": "LMC2"}, {"w": 8970, "f": 6.35, "t": "MW"}]},
       "mark": {"type": "text", "align": "left", "baseline": "middle", "fontSize": 14.5, "color": "#000"},
       "encoding": {"x": {"field": "w", "type": "quantitative"}, "y": {"field": "f", "type": "quantitative"}, "text": {"field": "t"}}},
      {"data": {"values": [{"w": 4607, "f": 7.91, "t": "DR7 composite spectrum"}]},
       "mark": {"type": "text", "align": "left", "baseline": "middle", "fontSize": 14.5, "color": "#00ee00"},
       "encoding": {"x": {"field": "w", "type": "quantitative"}, "y": {"field": "f", "type": "quantitative"}, "text": {"field": "t"}}},
      {"data": {"values": [{"w": 4600, "f": 6.35, "t": "HiBAL composite spectrum"}]},
       "mark": {"type": "text", "align": "left", "baseline": "middle", "fontSize": 14.5, "color": "#ff0000"},
       "encoding": {"x": {"field": "w", "type": "quantitative"}, "y": {"field": "f", "type": "quantitative"}, "text": {"field": "t"}}},
      {"data": {"values": [{"w": 3616, "f": 0.824, "t": "(a)"}]},
       "mark": {"type": "text", "align": "left", "baseline": "middle", "fontSize": 18, "color": "#000"},
       "encoding": {"x": {"field": "w", "type": "quantitative"}, "y": {"field": "f", "type": "quantitative"}, "text": {"field": "t"}}},
      {"data": {"values": [{"w": 3925, "f": 0.824, "t": "SDSS J125101.81+052441.5"}]},
       "mark": {"type": "text", "align": "left", "baseline": "middle", "fontSize": 14.5, "color": "#000"},
       "encoding": {"x": {"field": "w", "type": "quantitative"}, "y": {"field": "f", "type": "quantitative"}, "text": {"field": "t"}}}
    ]},
    {"layer": [
      {"data": {"values": [{"r": 1495, "r2": 1495, "f": 12.27, "f2": 10.37}, {"r": 1472, "r2": 1495, "f": 11.03, "f2": 10.37}, {"r": 1518, "r2": 1495, "f": 11.03, "f2": 10.37}, {"r": 2112, "r2": 2112, "f": 4.31, "f2": 3.5}, {"r": 2079, "r2": 2112, "f": 3.72, "f2": 3.5}, {"r": 2145, "r2": 2112, "f": 3.72, "f2": 3.5}]},
       "mark": {"type": "rule", "color": "#5a5aff", "strokeWidth": 1.2},
       "encoding": {
        "x": {"field": "r", "type": "quantitative", "scale": {"type": "log", "domain": [1152.8, 3696.5], "nice": false},
              "axis": {"orient": "top", "values": [1200,1300,1400,1500,1600,1700,1800,1900,2000,2100,2200,2300,2400,2500,2600,2700,2800,2900,3000,3100,3200,3300,3400,3500,3600], "labelExpr": "datum.value % 500 == 0 ? format(datum.value, 'd') : ''", "tickSize": {"condition": {"test": "datum.value % 500 == 0", "value": -10}, "value": -5}, "labelPadding": 14, "title": "Rest Wavelength (A)", "titlePadding": 6}},
        "x2": {"field": "r2"},
        "y": {"field": "f", "type": "quantitative", "scale": {"type": "log", "domain": [0.7, 15.2], "nice": false},
              "axis": {"orient": "right", "values": [0.7,0.8,0.9,1,2,3,4,5,6,7,8,9,10], "labels": false, "tickSize": {"condition": {"test": "datum.value == 1 || datum.value == 10", "value": -10}, "value": -5}, "title": null}},
        "y2": {"field": "f2"}}},
      {"data": {"values": [{"r": 1477, "f": 13.6, "t": "CIV"}, {"r": 2112, "f": 4.65, "t": "Bump"}]},
       "mark": {"type": "text", "align": "left", "baseline": "middle", "fontSize": 14.5, "color": "#2a2aff"},
       "encoding": {"x": {"field": "r", "type": "quantitative"}, "y": {"field": "f", "type": "quantitative"}, "text": {"field": "t"}}}
    ]}
   ]
  },
  {"bounds": "flush", "spacing": 40, "hconcat": [
   {"width": 208, "height": 170,
    "resolve": {"axis": {"x": "independent", "y": "independent"}},
    "layer": [
     {"data": {"name": "bsolid"}, "mark": {"type": "line", "color": "#555", "strokeWidth": 1},
      "encoding": {
       "x": {"field": "x", "type": "quantitative", "scale": {"domain": [1.19, 8.86], "nice": false, "zero": false},
             "axis": {"values": [1.5,2,2.5,3,3.5,4,4.5,5,5.5,6,6.5,7,7.5,8,8.5], "labelExpr": "abs(datum.value - round(datum.value)) < 0.001 && round(datum.value) % 2 == 0 ? format(datum.value, 'd') : ''", "tickSize": {"condition": {"test": "abs(datum.value - round(datum.value)) < 0.001 && round(datum.value) % 2 == 0", "value": -7}, "value": -4}, "labelPadding": 12, "title": "Wavenumber (µm⁻¹) in Rest Frame", "titlePadding": 2}},
       "y": {"field": "y", "type": "quantitative", "scale": {"domain": [1.77, 3.0], "nice": false, "zero": false},
             "axis": {"values": [1.8,1.9,2.0,2.1,2.2,2.3,2.4,2.5,2.6,2.7,2.8,2.9,3.0], "labelExpr": "abs(datum.value*5 - round(datum.value*5)) < 0.001 ? format(datum.value, '.1f') : ''", "tickSize": {"condition": {"test": "abs(datum.value*5 - round(datum.value*5)) < 0.001", "value": -7}, "value": -4}, "labelPadding": 10, "title": "Magnitude (mag)", "titlePadding": 4}}}},
     {"data": {"values": [{"x": 1.19, "y": 2.235}, {"x": 8.86, "y": 2.18}]}, "mark": {"type": "line", "color": "#777", "strokeWidth": 1, "strokeDash": [12, 8]},
      "encoding": {
       "x": {"field": "x", "type": "quantitative", "axis": {"orient": "top", "values": [1.5,2,2.5,3,3.5,4,4.5,5,5.5,6,6.5,7,7.5,8,8.5], "labels": false, "tickSize": {"condition": {"test": "abs(datum.value - round(datum.value)) < 0.001 && round(datum.value) % 2 == 0", "value": -7}, "value": -4}, "title": null}},
       "y": {"field": "y", "type": "quantitative", "axis": {"orient": "right", "values": [1.8,1.9,2.0,2.1,2.2,2.3,2.4,2.5,2.6,2.7,2.8,2.9,3.0], "labels": false, "tickSize": {"condition": {"test": "abs(datum.value*5 - round(datum.value*5)) < 0.001", "value": -7}, "value": -4}, "title": null}}}},
     {"data": {"values": [{"x": 4.4}]}, "mark": {"type": "rule", "color": "#000", "strokeWidth": 2.5, "strokeDash": [2, 4]},
      "encoding": {"x": {"field": "x", "type": "quantitative", "axis": null}}},
     {"data": {"values": [{"x": 1.63, "y": 2.86, "t": "(b)"}, {"x": 6.0, "y": 2.86, "t": "γ=1.61"}]},
      "mark": {"type": "text", "align": "left", "baseline": "middle", "fontSize": 18, "color": "#000"},
      "encoding": {"x": {"field": "x", "type": "quantitative", "axis": null}, "y": {"field": "y", "type": "quantitative", "axis": null}, "text": {"field": "t"}}}
    ]},
   {"width": 200, "height": 170,
    "resolve": {"axis": {"x": "independent", "y": "independent"}},
    "layer": [
     {"data": {"name": "hist"}, "mark": {"type": "line", "color": "#555", "strokeWidth": 1.3, "interpolate": "step-after"},
      "encoding": {
       "x": {"field": "x", "type": "quantitative", "scale": {"domain": [-0.7, 1.58], "nice": false, "zero": false},
             "axis": {"values": [-0.6,-0.5,-0.4,-0.3,-0.2,-0.1,0,0.1,0.2,0.3,0.4,0.5,0.6,0.7,0.8,0.9,1.0,1.1,1.2,1.3,1.4,1.5], "labelExpr": "abs(datum.value*2 - round(datum.value*2)) < 0.001 ? replace(format(datum.value, '.1f'), '−', '-') : ''", "tickSize": {"condition": {"test": "abs(datum.value*2 - round(datum.value*2)) < 0.001", "value": -7}, "value": -4}, "labelPadding": 12, "title": "Bump Strength", "titlePadding": 2}},
       "y": {"field": "n", "type": "quantitative", "scale": {"domain": [-0.7, 41], "nice": false, "zero": false},
             "axis": {"values": [0,2,4,6,8,10,12,14,16,18,20,22,24,26,28,30,32,34,36,38,40], "labelExpr": "datum.value % 10 == 0 ? format(datum.value, 'd') : ''", "tickSize": {"condition": {"test": "datum.value % 10 == 0", "value": -7}, "value": -4}, "labelPadding": 10, "title": "N", "titlePadding": 4}}}},
     {"data": {"name": "gauss"}, "mark": {"type": "line", "color": "#ff5555", "strokeWidth": 1},
      "encoding": {
       "x": {"field": "x", "type": "quantitative", "axis": {"orient": "top", "values": [-0.6,-0.5,-0.4,-0.3,-0.2,-0.1,0,0.1,0.2,0.3,0.4,0.5,0.6,0.7,0.8,0.9,1.0,1.1,1.2,1.3,1.4,1.5], "labels": false, "tickSize": {"condition": {"test": "abs(datum.value*2 - round(datum.value*2)) < 0.001", "value": -7}, "value": -4}, "title": null}},
       "y": {"field": "n", "type": "quantitative", "axis": {"orient": "right", "values": [0,2,4,6,8,10,12,14,16,18,20,22,24,26,28,30,32,34,36,38,40], "labels": false, "tickSize": {"condition": {"test": "datum.value % 10 == 0", "value": -7}, "value": -4}, "title": null}}}},
     {"data": {"values": [{"x": 0.55}, {"x": 0.73}, {"x": 0.91}]}, "mark": {"type": "rule", "color": "#66ee66", "strokeWidth": 1, "strokeDash": [6, 4]},
      "encoding": {"x": {"field": "x", "type": "quantitative", "axis": null}}},
     {"data": {"values": [{"x": 1.11, "x2": 1.11, "n": 17, "n2": 8.4}, {"x": 1.01, "x2": 1.11, "n": 11, "n2": 8.4}, {"x": 1.21, "x2": 1.11, "n": 11, "n2": 8.4}]},
      "mark": {"type": "rule", "color": "#2020ff", "strokeWidth": 1.2},
      "encoding": {"x": {"field": "x", "type": "quantitative", "axis": null}, "x2": {"field": "x2"}, "y": {"field": "n", "type": "quantitative", "axis": null}, "y2": {"field": "n2"}}},
     {"data": {"values": [{"x": -0.57, "n": 35.3, "t": "(c)"}]},
      "mark": {"type": "text", "align": "left", "baseline": "middle", "fontSize": 18, "color": "#000"},
      "encoding": {"x": {"field": "x", "type": "quantitative", "axis": null}, "y": {"field": "n", "type": "quantitative", "axis": null}, "text": {"field": "t"}}}
    ]}
  ]}
 ]},
 {"bounds": "flush", "spacing": 0, "vconcat": [
  {"width": 217, "height": 155,
   "resolve": {"axis": {"x": "independent", "y": "independent"}},
   "layer": [
    {"data": {"name": "vd"}, "mark": {"type": "line", "color": "#4d4d4d", "strokeWidth": 0.8, "clip": true},
     "encoding": {
      "x": {"field": "v", "type": "quantitative", "scale": {"domain": [-27.7, 0.55], "nice": false, "zero": false},
            "axis": {"values": [-27,-26,-25,-24,-23,-22,-21,-20,-19,-18,-17,-16,-15,-14,-13,-12,-11,-10,-9,-8,-7,-6,-5,-4,-3,-2,-1,0], "labels": false, "tickSize": {"condition": {"test": "datum.value % 5 == 0", "value": -8}, "value": -4}, "title": null}},
      "y": {"field": "y", "type": "quantitative", "scale": {"domain": [-0.05, 1.525], "nice": false, "zero": false},
            "axis": {"values": [0,0.1,0.2,0.3,0.4,0.5,0.6,0.7,0.8,0.9,1,1.1,1.2,1.3,1.4], "labelExpr": "round(datum.value*10) % 2 == 0 ? format(datum.value, '.1f') : ''", "tickSize": {"condition": {"test": "round(datum.value*10) % 2 == 0", "value": -8}, "value": -4}, "labelPadding": 11, "title": null}}}},
    {"data": {"values": [{"y": 1}]}, "mark": {"type": "rule", "color": "#808080", "strokeWidth": 2.5, "strokeDash": [10, 8]},
     "encoding": {"y": {"field": "y", "type": "quantitative", "axis": {"orient": "right", "values": [0,0.1,0.2,0.3,0.4,0.5,0.6,0.7,0.8,0.9,1,1.1,1.2,1.3,1.4], "labels": false, "tickSize": {"condition": {"test": "round(datum.value*10) % 2 == 0", "value": -8}, "value": -4}, "title": null}}}},
    {"data": {"values": [{"v": -25.6, "y": 1.28, "t": "(d)"}]}, "mark": {"type": "text", "align": "left", "baseline": "middle", "fontSize": 18, "color": "#000"},
     "encoding": {"x": {"field": "v", "type": "quantitative", "axis": null}, "y": {"field": "y", "type": "quantitative", "axis": null}, "text": {"field": "t"}}},
    {"data": {"values": [{"v": -25.6, "y": 0.11, "t": "C IV: relative to 1549A"}]}, "mark": {"type": "text", "align": "left", "baseline": "middle", "fontSize": 14, "color": "#000"},
     "encoding": {"x": {"field": "v", "type": "quantitative", "axis": null}, "y": {"field": "y", "type": "quantitative", "axis": null}, "text": {"field": "t"}}},
    {"data": {"values": [{"v": -3.9}]}, "mark": {"type": "rule", "color": "#00ff00", "strokeWidth": 3, "strokeDash": [9, 6]},
     "encoding": {"x": {"field": "v", "type": "quantitative",
       "axis": {"orient": "top", "values": [-27,-26,-25,-24,-23,-22,-21,-20,-19,-18,-17,-16,-15,-14,-13,-12,-11,-10,-9,-8,-7,-6,-5,-4,-3,-2,-1,0], "labelExpr": "datum.value % 5 == 0 ? '' + datum.value : ''", "tickSize": {"condition": {"test": "datum.value % 5 == 0", "value": -8}, "value": -4}, "labelPadding": 11, "title": null}}}}
   ]},
  {"width": 217, "height": 155,
   "resolve": {"axis": {"x": "independent", "y": "independent"}},
   "layer": [
    {"data": {"name": "ve"}, "mark": {"type": "line", "color": "#4d4d4d", "strokeWidth": 0.8, "clip": true},
     "encoding": {
      "x": {"field": "v", "type": "quantitative", "scale": {"domain": [-27.7, 0.55], "nice": false, "zero": false},
            "axis": {"values": [-27,-26,-25,-24,-23,-22,-21,-20,-19,-18,-17,-16,-15,-14,-13,-12,-11,-10,-9,-8,-7,-6,-5,-4,-3,-2,-1,0], "labels": false, "tickSize": {"condition": {"test": "datum.value % 5 == 0", "value": -8}, "value": -4}, "title": null}},
      "y": {"field": "y", "type": "quantitative", "scale": {"domain": [-0.05, 1.525], "nice": false, "zero": false},
            "axis": {"values": [0,0.1,0.2,0.3,0.4,0.5,0.6,0.7,0.8,0.9,1,1.1,1.2,1.3,1.4], "labelExpr": "round(datum.value*10) % 2 == 0 ? format(datum.value, '.1f') : ''", "tickSize": {"condition": {"test": "round(datum.value*10) % 2 == 0", "value": -8}, "value": -4}, "labelPadding": 11, "title": "Normalized Flux Density", "titleX": -30, "titleY": 140, "titleAngle": -90, "titleAlign": "center", "titleBaseline": "bottom"}}}},
    {"data": {"values": [{"y": 1}]}, "mark": {"type": "rule", "color": "#808080", "strokeWidth": 2.5, "strokeDash": [10, 8]},
     "encoding": {"y": {"field": "y", "type": "quantitative", "axis": {"orient": "right", "values": [0,0.1,0.2,0.3,0.4,0.5,0.6,0.7,0.8,0.9,1,1.1,1.2,1.3,1.4], "labels": false, "tickSize": {"condition": {"test": "round(datum.value*10) % 2 == 0", "value": -8}, "value": -4}, "title": null}}}},
    {"data": {"values": [{"v": -25.6, "y": 1.28, "t": "(e)"}, {"v": -25.6, "y": 0.11, "t": "Fe III UV48: relative to 2079A"}]}, "mark": {"type": "text", "align": "left", "baseline": "middle", "fontSize": 14, "color": "#000"},
     "encoding": {"x": {"field": "v", "type": "quantitative", "axis": null}, "y": {"field": "y", "type": "quantitative", "axis": null}, "text": {"field": "t"}, "size": {"condition": {"test": "datum.t == '(e)'", "value": 18}, "value": 14}}},
    {"data": {"values": [{"v": -3.9}]}, "mark": {"type": "rule", "color": "#00ff00", "strokeWidth": 3, "strokeDash": [9, 6]},
     "encoding": {"x": {"field": "v", "type": "quantitative", "axis": {"orient": "top", "values": [-27,-26,-25,-24,-23,-22,-21,-20,-19,-18,-17,-16,-15,-14,-13,-12,-11,-10,-9,-8,-7,-6,-5,-4,-3,-2,-1,0], "labels": false, "tickSize": {"condition": {"test": "datum.value % 5 == 0", "value": -8}, "value": -4}, "title": null}}}}
   ]},
  {"width": 217, "height": 155,
   "resolve": {"axis": {"x": "independent", "y": "independent"}},
   "layer": [
    {"data": {"name": "vf"}, "mark": {"type": "line", "color": "#4d4d4d", "strokeWidth": 0.8, "clip": true},
     "encoding": {
      "x": {"field": "v", "type": "quantitative", "scale": {"domain": [-27.7, 0.55], "nice": false, "zero": false},
            "axis": {"values": [-27,-26,-25,-24,-23,-22,-21,-20,-19,-18,-17,-16,-15,-14,-13,-12,-11,-10,-9,-8,-7,-6,-5,-4,-3,-2,-1,0], "labels": false, "tickSize": {"condition": {"test": "datum.value % 5 == 0", "value": -8}, "value": -4}, "title": null}},
      "y": {"field": "y", "type": "quantitative", "scale": {"domain": [-0.05, 1.525], "nice": false, "zero": false},
            "axis": {"values": [0,0.1,0.2,0.3,0.4,0.5,0.6,0.7,0.8,0.9,1,1.1,1.2,1.3,1.4], "labelExpr": "round(datum.value*10) % 2 == 0 ? format(datum.value, '.1f') : ''", "tickSize": {"condition": {"test": "round(datum.value*10) % 2 == 0", "value": -8}, "value": -4}, "labelPadding": 11, "title": null}}}},
    {"data": {"values": [{"y": 1}]}, "mark": {"type": "rule", "color": "#808080", "strokeWidth": 2.5, "strokeDash": [10, 8]},
     "encoding": {"y": {"field": "y", "type": "quantitative", "axis": {"orient": "right", "values": [0,0.1,0.2,0.3,0.4,0.5,0.6,0.7,0.8,0.9,1,1.1,1.2,1.3,1.4], "labels": false, "tickSize": {"condition": {"test": "round(datum.value*10) % 2 == 0", "value": -8}, "value": -4}, "title": null}}}},
    {"data": {"values": [{"v": -25.6, "y": 1.28, "t": "(f)"}, {"v": -25.6, "y": 0.11, "t": "Fe II UV1: relative to 2632A"}]}, "mark": {"type": "text", "align": "left", "baseline": "middle", "fontSize": 14, "color": "#000"},
     "encoding": {"x": {"field": "v", "type": "quantitative", "axis": null}, "y": {"field": "y", "type": "quantitative", "axis": null}, "text": {"field": "t"}, "size": {"condition": {"test": "datum.t == '(f)'", "value": 18}, "value": 14}}},
    {"data": {"values": [{"v": -3.9}]}, "mark": {"type": "rule", "color": "#00ff00", "strokeWidth": 3, "strokeDash": [9, 6]},
     "encoding": {"x": {"field": "v", "type": "quantitative", "axis": {"orient": "top", "values": [-27,-26,-25,-24,-23,-22,-21,-20,-19,-18,-17,-16,-15,-14,-13,-12,-11,-10,-9,-8,-7,-6,-5,-4,-3,-2,-1,0], "labels": false, "tickSize": {"condition": {"test": "datum.value % 5 == 0", "value": -8}, "value": -4}, "title": null}}}}
   ]},
  {"width": 217, "height": 155,
   "resolve": {"axis": {"x": "independent", "y": "independent"}},
   "layer": [
    {"data": {"name": "vg"}, "mark": {"type": "line", "color": "#4d4d4d", "strokeWidth": 0.8, "clip": true},
     "encoding": {
      "x": {"field": "v", "type": "quantitative", "scale": {"domain": [-27.7, 0.55], "nice": false, "zero": false},
            "axis": {"orient": "top", "values": [-27,-26,-25,-24,-23,-22,-21,-20,-19,-18,-17,-16,-15,-14,-13,-12,-11,-10,-9,-8,-7,-6,-5,-4,-3,-2,-1,0], "labels": false, "tickSize": {"condition": {"test": "datum.value % 5 == 0", "value": -8}, "value": -4}, "title": null}},
      "y": {"field": "y", "type": "quantitative", "scale": {"domain": [-0.05, 1.525], "nice": false, "zero": false},
            "axis": {"values": [0,0.1,0.2,0.3,0.4,0.5,0.6,0.7,0.8,0.9,1,1.1,1.2,1.3,1.4], "labelExpr": "round(datum.value*10) % 2 == 0 ? format(datum.value, '.1f') : ''", "tickSize": {"condition": {"test": "round(datum.value*10) % 2 == 0", "value": -8}, "value": -4}, "labelPadding": 11, "title": null}}}},
    {"data": {"values": [{"y": 1}]}, "mark": {"type": "rule", "color": "#808080", "strokeWidth": 2.5, "strokeDash": [10, 8]},
     "encoding": {"y": {"field": "y", "type": "quantitative", "axis": {"orient": "right", "values": [0,0.1,0.2,0.3,0.4,0.5,0.6,0.7,0.8,0.9,1,1.1,1.2,1.3,1.4], "labels": false, "tickSize": {"condition": {"test": "round(datum.value*10) % 2 == 0", "value": -8}, "value": -4}, "title": null}}}},
    {"data": {"values": [{"v": -25.6, "y": 1.28, "t": "(g)"}]}, "mark": {"type": "text", "align": "left", "baseline": "middle", "fontSize": 18, "color": "#000"},
     "encoding": {"x": {"field": "v", "type": "quantitative", "axis": null}, "y": {"field": "y", "type": "quantitative", "axis": null}, "text": {"field": "t"}}},
    {"data": {"values": [{"v": -25.6, "y": 0.11, "t": "Mg II: relative to 2803A"}]}, "mark": {"type": "text", "align": "left", "baseline": "middle", "fontSize": 14, "color": "#000"},
     "encoding": {"x": {"field": "v", "type": "quantitative", "axis": null}, "y": {"field": "y", "type": "quantitative", "axis": null}, "text": {"field": "t"}}},
    {"data": {"values": [{"v": -3.9}]}, "mark": {"type": "rule", "color": "#00ff00", "strokeWidth": 3, "strokeDash": [9, 6]},
     "encoding": {"x": {"field": "v", "type": "quantitative",
       "axis": {"orient": "bottom", "values": [-27,-26,-25,-24,-23,-22,-21,-20,-19,-18,-17,-16,-15,-14,-13,-12,-11,-10,-9,-8,-7,-6,-5,-4,-3,-2,-1,0], "labelExpr": "datum.value % 5 == 0 ? replace(format(datum.value, 'd'), '−', '-') : ''", "tickSize": {"condition": {"test": "datum.value % 5 == 0", "value": -8}, "value": -4}, "labelPadding": 11, "title": "Velocity (10³ km s⁻¹)", "titlePadding": 2}}}}
   ]}
 ]}
]
}
